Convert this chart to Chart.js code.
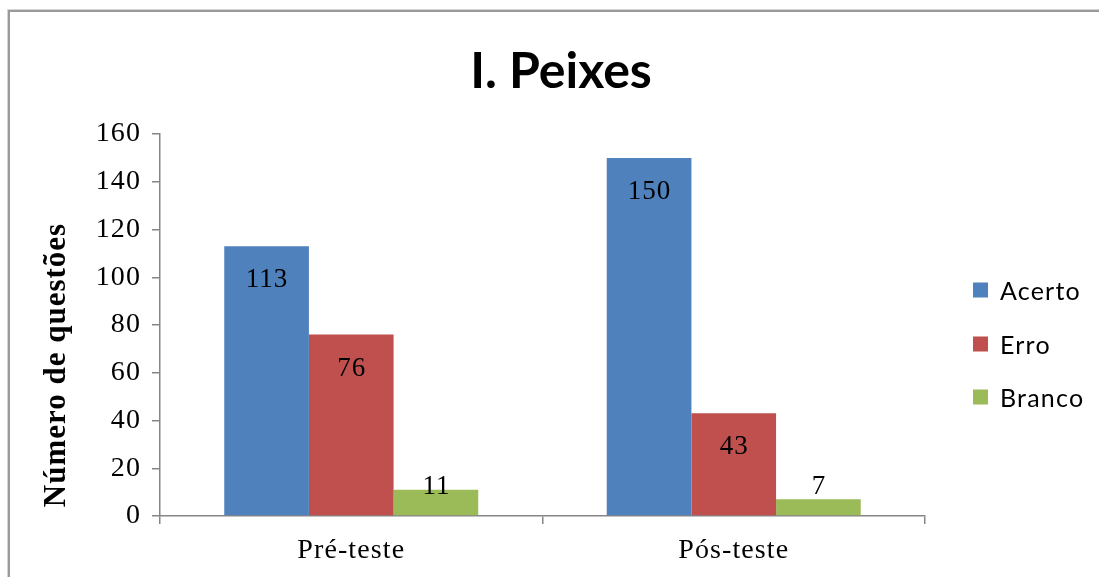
<!DOCTYPE html>
<html>
<head>
<meta charset="utf-8">
<script src="https://cdn.jsdelivr.net/npm/chart.js@4.4.1/dist/chart.umd.min.js"></script>
<style>
html,body{margin:0;padding:0;background:#fff;}
canvas{display:block;}
</style>
</head>
<body>
<canvas id="c" width="1099" height="577" style="width:1099px;height:577px"></canvas>
<script>
const chartTitle = "I. Peixes";
const yAxisTitle = "Número de questões";
const categories = ["Pré-teste", "Pós-teste"];
const seriesNames = ["Acerto", "Erro", "Branco"];
const acerto = [113, 150];
const erro = [76, 43];
const branco = [11, 7];
const seriesColors = ["#4F81BD", "#C0504D", "#9BBB59"];
const yMin = 0, yMax = 160, yStep = 20;

const axisGray = "#868686";

const framePlugin = {
  id: "frame",
  beforeDraw(chart) {
    const ctx = chart.ctx;
    ctx.letterSpacing = "1.1px";
    ctx.save();
    ctx.fillStyle = "#ffffff";
    ctx.fillRect(0, 0, chart.width, chart.height);
    ctx.fillStyle = "#d4d4d4";
    ctx.fillRect(7, 9, chart.width, 1);
    ctx.fillRect(7, 9, 1, chart.height);
    ctx.fillStyle = "#9a9a9a";
    ctx.fillRect(8, 10, chart.width, 2);
    ctx.fillRect(8, 10, 2, chart.height);
    ctx.restore();
  }
};

const decorPlugin = {
  id: "decor",
  afterDatasetsDraw(chart) {
    const ctx = chart.ctx;
    ctx.save();
    // value labels
    ctx.fillStyle = "#000";
    ctx.letterSpacing = "1px";
    ctx.font = "27px 'Liberation Serif', 'Times New Roman', serif";
    ctx.textAlign = "center";
    ctx.textBaseline = "middle";
    chart.data.datasets.forEach((ds, i) => {
      const meta = chart.getDatasetMeta(i);
      meta.data.forEach((bar, j) => {
        const y = Math.min(bar.y + 34, bar.base - 28);
        ctx.fillText(String(ds.data[j]), bar.x + 0.5, y);
      });
    });
    // title
    ctx.letterSpacing = "0px";
    ctx.font = "bold 50px Lato, 'Open Sans', sans-serif";
    ctx.textBaseline = "alphabetic";
    ctx.fillText(chartTitle, 561, 88);
    // y axis title
    ctx.save();
    ctx.translate(57, 365);
    ctx.rotate(-Math.PI / 2);
    ctx.letterSpacing = "1px";
    ctx.font = "bold 31px 'Liberation Serif', 'Times New Roman', serif";
    ctx.textBaseline = "middle";
    ctx.fillText(yAxisTitle, 0, 0);
    ctx.restore();
    // legend
    ctx.textAlign = "left";
    ctx.textBaseline = "middle";
    ctx.letterSpacing = "1.2px";
    ctx.font = "25px Lato, 'Open Sans', sans-serif";
    const legendY = [290, 344, 397];
    chart.data.datasets.forEach((ds, i) => {
      ctx.fillStyle = ds.backgroundColor;
      ctx.fillRect(973, legendY[i] - 7.5, 15, 15);
      ctx.fillStyle = "#000";
      ctx.fillText(ds.label, 1000, legendY[i] + 2);
    });
    ctx.restore();
  }
};

new Chart(document.getElementById("c"), {
  type: "bar",
  data: {
    labels: categories,
    datasets: [
      { label: seriesNames[0], data: acerto, backgroundColor: seriesColors[0] },
      { label: seriesNames[1], data: erro, backgroundColor: seriesColors[1] },
      { label: seriesNames[2], data: branco, backgroundColor: seriesColors[2] }
    ]
  },
  options: {
    responsive: false,
    animation: false,
    devicePixelRatio: 1,
    layout: { padding: { left: 0, right: 174, top: 134, bottom: 0 } },
    datasets: { bar: { categoryPercentage: 0.664, barPercentage: 1.0, borderWidth: 0 } },
    plugins: {
      legend: { display: false },
      title: { display: false },
      tooltip: { enabled: false }
    },
    scales: {
      x: {
        offset: true,
        grid: {
          offset: true,
          drawOnChartArea: false,
          drawTicks: true,
          tickLength: 8,
          color: axisGray,
          lineWidth: 1.5
        },
        border: { display: true, color: axisGray, width: 1.5 },
        ticks: {
          color: "#000",
          padding: 10,
          font: { family: "'Liberation Serif', 'Times New Roman', serif", size: 28 }
        },
        afterFit(scale) { scale.height = 61; }
      },
      y: {
        min: yMin,
        max: yMax,
        grid: {
          drawOnChartArea: false,
          drawTicks: true,
          tickLength: 8,
          color: axisGray,
          lineWidth: 1.5
        },
        border: { display: true, color: axisGray, width: 1.5 },
        ticks: {
          stepSize: yStep,
          color: "#000",
          padding: 11,
          font: { family: "'Liberation Serif', 'Times New Roman', serif", size: 28 }
        },
        afterFit(scale) { scale.width = 160; }
      }
    }
  },
  plugins: [framePlugin, decorPlugin]
});
</script>
</body>
</html>
